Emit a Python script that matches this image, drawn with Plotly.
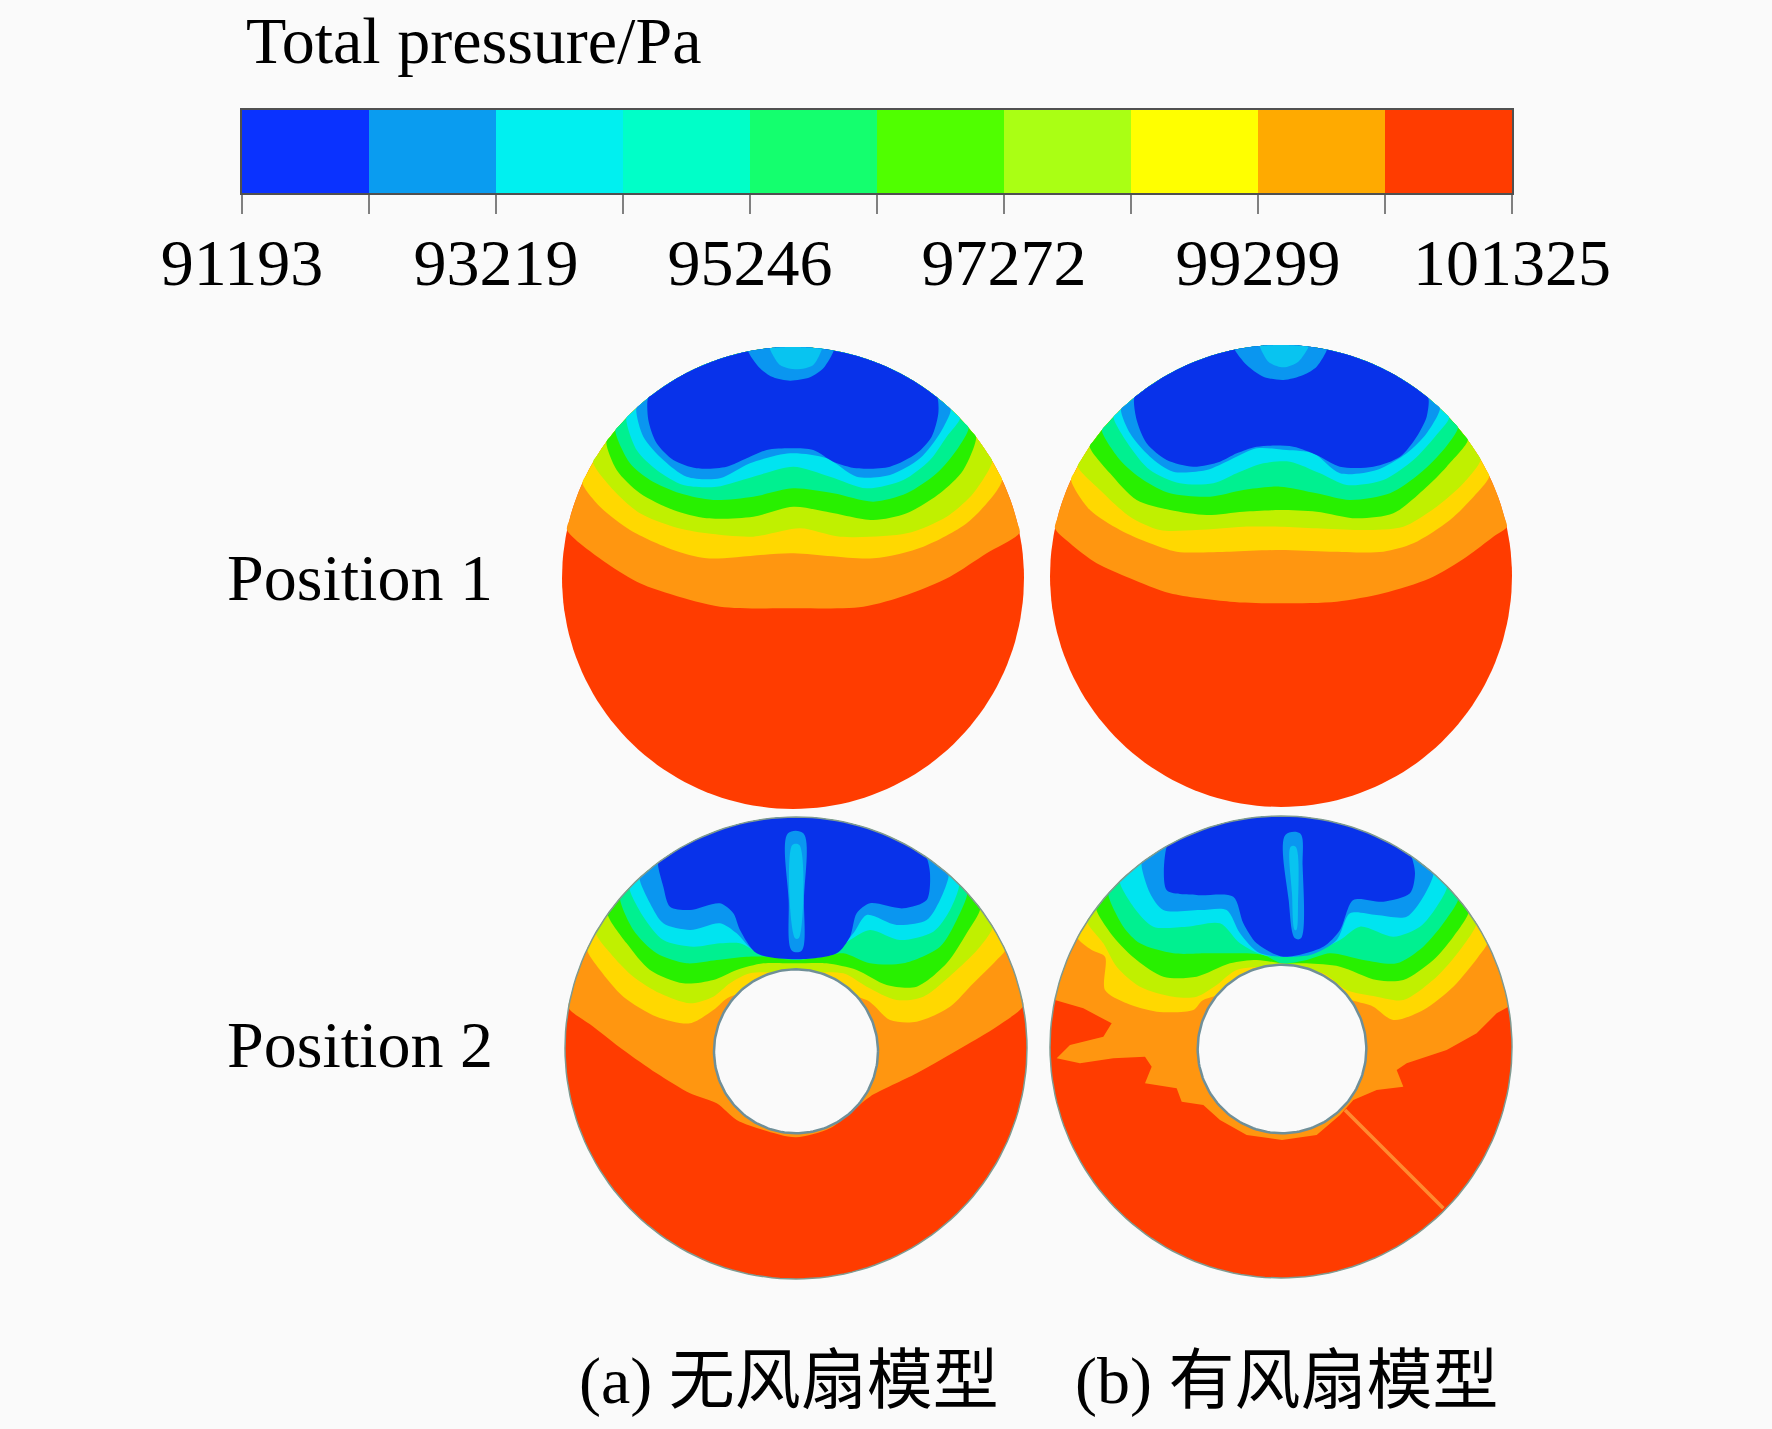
import math
import plotly.graph_objects as go

W, H = 1772, 1429
BG = "#fafafa"
SERIF = "Liberation Serif, 'Noto Sans CJK SC', serif"

# colour bar
levels = [91193, 92206, 93219, 94233, 95246, 96259, 97272, 98286, 99299, 100312, 101325]
tick_labels = ["91193", "", "93219", "", "95246", "", "97272", "", "99299", "", "101325"]
bar_colors = ["#0a32ff", "#0a9cf0", "#00f0f0", "#00ffc8", "#14ff6e",
              "#50ff00", "#aaff14", "#ffff00", "#ffaa00", "#ff3c00"]

# contour band colours as they appear inside the sections
red, orange, yellow, lime, green = "#ff3c00", "#ff9610", "#ffd800", "#c0f000", "#28f000"
spring, cyan, lightblue, blue = "#00f090", "#00e4f0", "#0a96f0", "#0832ea"
core = "#08c4f0"

# Section 1 (a, position 1): contour boundaries, left to right
a1_orange = [(81,600),(200,700),(300,760),(400,795),(540,830),(750,835),(970,830),(1100,795),(1230,740),(1340,670),(1430,610)]
a1_yellow = [(130,460),(180,530),(270,600),(400,660),(500,685),(750,670),(1000,685),(1150,650),(1280,580),(1365,490),(1385,450)]
a1_lime = [(165,400),(220,480),(300,550),(400,590),(500,610),(640,620),(780,595),(900,620),(1100,610),(1220,560),(1300,490),(1345,400)]
a1_green = [(205,340),(230,420),(300,490),(400,540),(500,565),(640,560),(760,530),(860,545),(1000,570),(1100,550),(1200,490),(1270,420),(1310,320)]
a1_spring = [(225,300),(270,400),(330,450),(420,490),(520,510),(640,500),(760,475),(880,490),(1000,515),(1100,490),(1190,430),(1250,360),(1290,290)]
a1_cyan = [(255,260),(290,360),(350,420),(430,465),(530,470),(640,440),(760,410),(870,440),(980,475),(1090,450),(1170,390),(1220,320),(1265,260)]
a1_lightblue = [(285,230),(310,320),(370,390),(440,440),(540,445),(630,400),(750,370),(860,385),(950,440),(1050,435),(1140,385),(1200,310),(1235,235)]
a1_blue = [(325,205),(325,270),(350,340),(400,390),(470,415),(560,410),(620,385),(680,360),(750,355),(820,360),(880,395),(950,415),(1050,410),(1130,370),(1175,320),(1195,250),(1190,205)]
a1_dome_lightblue = [(625,65),(660,115),(700,142),(750,152),(810,142),(850,115),(880,65)]
a1_dome_cyan = [(690,60),(720,105),(770,118),(820,105),(845,60)]

# Section 2 (b, position 1)
b1_orange = [(75,595),(120,640),(200,700),(300,745),(420,790),(600,815),(750,820),(920,815),(1060,790),(1200,745),(1310,680),(1390,620),(1435,590)]
b1_yellow = [(125,450),(180,540),(270,600),(360,640),(440,665),(600,665),(750,660),(900,665),(1060,665),(1150,640),(1260,570),(1340,490),(1375,440)]
b1_lime = [(145,410),(210,480),(300,560),(390,600),(500,600),(640,590),(750,590),(860,595),(1000,600),(1120,590),(1220,530),(1300,460),(1350,390)]
b1_green = [(180,350),(240,430),(320,510),(420,540),(530,555),(640,545),(750,540),(860,545),(980,565),(1090,550),(1180,480),(1250,410),(1300,340)]
b1_spring = [(215,300),(270,390),(340,450),(420,490),(540,500),(640,480),(750,470),(860,490),(960,510),(1080,490),(1170,430),(1240,360),(1275,300)]
b1_cyan = [(250,260),(300,350),(360,420),(450,460),(550,460),(620,430),(700,400),(780,395),(870,430),(950,465),(1060,450),(1150,390),(1215,320),(1255,265)]
b1_lightblue = [(275,240),(300,310),(360,380),(430,425),(530,420),(600,390),(680,355),(770,360),(850,370),(930,430),(1040,420),(1130,370),(1190,310),(1225,240)]
b1_blue = [(315,205),(320,270),(350,340),(410,390),(490,410),(570,395),(620,370),(680,350),(790,350),(860,375),(930,410),(1030,410),(1110,380),(1160,320),(1190,260),(1190,210)]
b1_dome_lightblue = [(615,60),(650,105),(700,140),(760,150),(820,135),(860,110),(890,60)]
b1_dome_cyan = [(690,55),(715,95),(760,112),(805,95),(835,55)]

# Section 3 (a, position 2)
a2_orange = [(65,625),(130,680),(220,750),(320,820),(420,880),(500,910),(560,960),(640,990),(738,1012),(840,985),(900,940),(960,890),(1100,820),(1240,740),(1340,680),(1410,620)]
a2_yellow = [(115,450),(150,510),(220,590),(320,650),(420,670),(490,630),(540,590),(738,560),(950,600),(1020,660),(1100,665),(1200,620),(1270,550),(1340,480),(1365,450)]
a2_lime = [(140,400),(190,470),(250,530),(330,580),(420,610),(490,590),(540,550),(600,520),(738,520),(880,520),(950,560),(1040,600),(1120,590),(1220,510),(1290,440),(1330,380)]
a2_green = [(170,340),(230,430),(300,510),(400,550),(490,540),(560,510),(640,490),(738,490),(830,490),(920,510),(1010,555),(1100,560),(1190,490),(1250,400),(1285,330)]
a2_spring = [(205,290),(250,390),(320,460),(410,490),(500,480),(590,470),(650,470),(738,480),(820,470),(880,460),(960,490),(1060,490),(1170,440),(1220,360),(1250,280)]
a2_cyan = [(235,260),(280,350),(340,420),(430,440),(510,430),(570,430),(630,460),(738,470),(840,460),(900,420),(960,390),(1050,420),(1150,395),(1200,330),(1230,250)]
a2_lightblue = [(270,235),(300,310),(340,370),(420,390),(510,370),(560,400),(610,450),(738,470),(860,450),(910,400),(950,345),(1040,375),(1130,360),(1170,300),(1190,230)]
a2_blue = [(330,195),(340,260),(360,320),(420,330),(510,310),(550,340),(570,390),(620,460),(738,478),(860,460),(900,410),(920,340),(960,310),(1060,325),(1130,300),(1140,220),(1130,170)]
a2_slit_lightblue = [(714,100),(760,100),(762,300),(755,452),(726,452),(716,300)]
a2_slit_core = [(727,135),(748,135),(746,415),(735,415)]

# Section 4 (b, position 2)
b2_orange = [(75,600),(160,625),(245,670),(220,710),(120,735),(80,775),(150,790),(250,775),(345,770),(365,800),(345,850),(440,865),(455,905),(520,915),(570,960),(650,1005),(756,1020),(860,1005),(930,945),(970,900),(1040,870),(1120,860),(1100,810),(1130,790),(1250,750),(1340,700),(1400,640),(1435,620)]
b2_yellow = [(155,420),(185,450),(225,470),(225,570),(290,610),(380,635),(490,630),(520,600),(756,560),(1000,610),(1030,620),(1090,660),(1180,630),(1270,560),(1345,470),(1370,430)]
b2_lime = [(180,370),(220,430),(260,500),(330,560),(430,590),(500,590),(560,555),(620,510),(756,500),(880,520),(950,570),(1040,590),(1120,600),(1220,530),(1290,450),(1340,370)]
b2_green = [(205,330),(250,410),(320,480),(400,530),(500,530),(600,490),(680,480),(756,490),(830,490),(930,500),(1040,540),(1120,540),(1210,480),(1270,410),(1310,340)]
b2_spring = [(240,285),(280,380),(330,430),(430,460),(530,460),(620,460),(700,465),(756,490),(830,480),(900,460),(1000,480),(1100,490),(1180,440),(1240,370),(1280,300)]
b2_cyan = [(275,250),(310,320),(370,380),(470,380),(570,370),(630,430),(700,465),(830,465),(930,420),(990,380),(1090,410),(1170,380),(1220,320),(1250,260)]
b2_lightblue = [(340,195),(360,280),(400,330),(510,330),(590,330),(630,400),(690,460),(840,465),(920,420),(960,340),(1040,345),(1130,350),(1180,290),(1210,220)]
b2_blue = [(415,145),(410,270),(500,285),(610,290),(640,370),(680,430),(760,470),(880,440),(930,390),(970,300),(1060,305),(1140,280),(1155,220),(1145,165)]
b2_slit_lightblue = [(766,105),(810,100),(818,200),(813,415),(795,415),(776,300)]
b2_slit_core = [(782,140),(797,140),(804,320),(799,390),(794,390),(786,280)]
b2_streak_x = [945, 1240]
b2_streak_y = [930, 1225]


def circle(cx, cy, r, n=180):
    pts = [(cx + r * math.cos(2 * math.pi * i / n), cy + r * math.sin(2 * math.pi * i / n)) for i in range(n + 1)]
    return [p[0] for p in pts], [p[1] for p in pts]


def close_over_top(curve, cx, cy, r, n=60):
    def project(p):
        d = math.hypot(p[0] - cx, p[1] - cy)
        return cx + (p[0] - cx) * r / d, cy + (p[1] - cy) * r / d
    first, last = project(curve[0]), project(curve[-1])
    a0 = math.atan2(cy - last[1], last[0] - cx)
    a1 = math.atan2(cy - first[1], first[0] - cx)
    if a1 < a0:
        a1 += 2 * math.pi
    arc = [(cx + r * math.cos(a0 + (a1 - a0) * i / n), cy - r * math.sin(a0 + (a1 - a0) * i / n)) for i in range(n + 1)]
    pts = [first] + curve[1:-1] + arc
    return [p[0] for p in pts], [p[1] for p in pts]


fig = go.Figure()

# colour bar from the levels, on a real axis
fig.add_trace(go.Heatmap(
    x=levels, y=[0, 1],
    z=[[(levels[i] + levels[i + 1]) / 2 for i in range(10)]],
    zmin=levels[0], zmax=levels[-1],
    colorscale=[[v, bar_colors[min(int(v * 10), 9) if v < 1 else 9]] for v in
                sorted([i / 10 for i in range(11)] + [i / 10 - 1e-6 for i in range(1, 11)])],
    showscale=False, hoverinfo="skip",
))

panels = [
    dict(n=2, origin=(540, 330), c=(759, 744), R=693, hole=None, outline=None,
         bands=[(a1_orange, orange), (a1_yellow, yellow), (a1_lime, lime), (a1_green, green), (a1_spring, spring),
                (a1_cyan, cyan), (a1_lightblue, lightblue), (a1_blue, blue),
                (a1_dome_lightblue, lightblue), (a1_dome_cyan, core)], inner=[]),
    dict(n=3, origin=(1030, 330), c=(753, 738), R=693, hole=None, outline=None,
         bands=[(b1_orange, orange), (b1_yellow, yellow), (b1_lime, lime), (b1_green, green), (b1_spring, spring),
                (b1_cyan, cyan), (b1_lightblue, lightblue), (b1_blue, blue),
                (b1_dome_lightblue, lightblue), (b1_dome_cyan, core)], inner=[]),
    dict(n=4, origin=(550, 800), c=(738, 744), R=693, hole=(738, 754, 246), outline="#7f9a90",
         bands=[(a2_orange, orange), (a2_yellow, yellow), (a2_lime, lime), (a2_green, green), (a2_spring, spring),
                (a2_cyan, cyan), (a2_lightblue, lightblue), (a2_blue, blue)],
         inner=[(a2_slit_lightblue, lightblue), (a2_slit_core, core)]),
    dict(n=5, origin=(1030, 800), c=(753, 741), R=693, hole=(756, 747, 253), outline="#7f9a90",
         bands=[(b2_orange, orange), (b2_yellow, yellow), (b2_lime, lime), (b2_green, green), (b2_spring, spring),
                (b2_cyan, cyan), (b2_lightblue, lightblue), (b2_blue, blue)],
         inner=[(b2_slit_lightblue, lightblue), (b2_slit_core, core)]),
]

layout_axes = {}
for p in panels:
    ax = dict(xaxis=f"x{p['n']}", yaxis=f"y{p['n']}")
    cx, cy = p["c"]
    R = p["R"]
    base = dict(mode="lines", fill="toself", hoverinfo="skip", showlegend=False, **ax)
    xs, ys = circle(cx, cy, R)
    fig.add_trace(go.Scatter(x=xs, y=ys, fillcolor=red, line=dict(width=0), **base))
    for curve, col in p["bands"]:
        xs, ys = close_over_top(curve, cx, cy, R)
        # the fan section's red boundary is jagged; every other contour is smooth
        shape = "linear" if curve is b2_orange else "spline"
        fig.add_trace(go.Scatter(x=xs, y=ys, fillcolor=col, line=dict(width=0, shape=shape, smoothing=0.8), **base))
    for poly, col in p["inner"]:
        fig.add_trace(go.Scatter(x=[q[0] for q in poly] + [poly[0][0]], y=[q[1] for q in poly] + [poly[0][1]],
                                 fillcolor=col, line=dict(width=0, shape="spline"), **base))
    if p["n"] == 5:
        fig.add_trace(go.Scatter(x=b2_streak_x, y=b2_streak_y, mode="lines", line=dict(color="#ff8a30", width=3.5),
                                 hoverinfo="skip", showlegend=False, **ax))
    if p["outline"]:
        xs, ys = circle(cx, cy, R)
        fig.add_trace(go.Scatter(x=xs, y=ys, mode="lines", line=dict(color=p["outline"], width=1.5),
                                 hoverinfo="skip", showlegend=False, **ax))
    if p["hole"]:
        hx, hy, hr = p["hole"]
        xs, ys = circle(hx, hy, hr)
        fig.add_trace(go.Scatter(x=xs, y=ys, mode="lines", line=dict(color="#6f8f98", width=2.5), fill="toself",
                                 fillcolor=BG, hoverinfo="skip", showlegend=False, **ax))
    ox, oy = p["origin"]
    span_y = 500
    layout_axes[f"xaxis{p['n']}"] = dict(domain=[ox / W, (ox + 500) / W], range=[0, 1500], visible=False,
                                         anchor=f"y{p['n']}", automargin=False)
    layout_axes[f"yaxis{p['n']}"] = dict(domain=[1 - (oy + span_y) / H, 1 - oy / H], range=[span_y * 3, 0],
                                         visible=False, anchor=f"x{p['n']}", automargin=False)


def label(text, px, py, anchor="left"):
    return dict(text=text, x=px / W, y=1 - py / H, xref="paper", yref="paper", xanchor=anchor, yanchor="middle",
                showarrow=False, font=dict(family=SERIF, size=66, color="#000000"))


fig.update_layout(
    template="none",
    width=W, height=H, margin=dict(l=0, r=0, t=0, b=0, pad=0, autoexpand=False), paper_bgcolor=BG,
    plot_bgcolor="rgba(0,0,0,0)", showlegend=False,
    xaxis=dict(domain=[242 / W, 1512 / W], range=[levels[0], levels[-1]], tickmode="array", tickvals=levels,
               ticktext=tick_labels, ticks="outside", ticklen=19, tickwidth=2, tickcolor="#808080",
               tickfont=dict(family=SERIF, size=66, color="#000000"), ticklabelstandoff=-8, showline=True,
               linecolor="#505050", linewidth=2, mirror=True, showgrid=False, zeroline=False, anchor="y",
               tickangle=0, automargin=False),
    yaxis=dict(domain=[1 - 193 / H, 1 - 110 / H], range=[0, 1], anchor="x", automargin=False, showline=True,
               linecolor="#505050", linewidth=1.5, mirror=True, ticks="", showticklabels=False, showgrid=False,
               zeroline=False),
    annotations=[
        label("Total pressure/Pa", 244, 40),
        label("Position 1", 225, 577),
        label("Position 2", 225, 1044),
        label("(a) 无风扇模型", 577, 1381),
        label("(b) 有风扇模型", 1073, 1381),
    ],
    **layout_axes,
)

fig.write_html("out.html", config={"displayModeBar": False}, post_script="document.body.style.margin='0';")
